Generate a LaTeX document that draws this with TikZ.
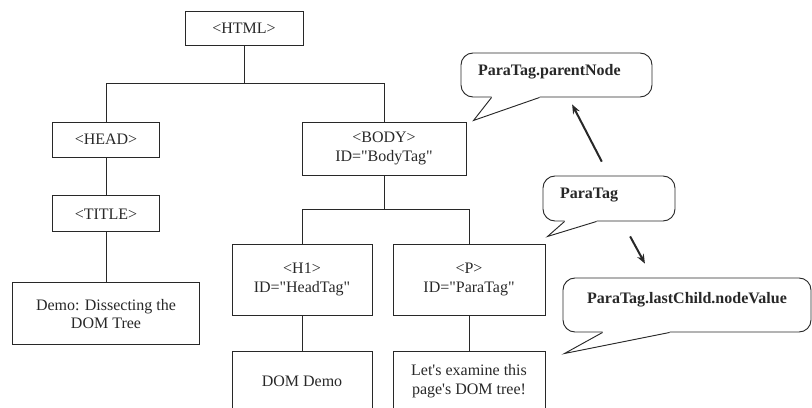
\documentclass[tikz,border=0pt]{standalone}
\usepackage{fontspec}
\setmainfont{Liberation Serif}
\usetikzlibrary{arrows.meta,positioning,calc}
\definecolor{inkgray}{RGB}{40,40,40}
\tikzset{
  tagbox/.style={draw=inkgray,line width=0.7pt,align=center,
                 font=\fontsize{12}{14}\selectfont,text=inkgray,inner sep=2pt},
  bubble/.style={draw=inkgray,line width=0.7pt,fill=white,rounded corners=9pt,
                 font=\fontsize{12}{14}\selectfont\bfseries,text=inkgray},
  link/.style={draw=inkgray,line width=0.7pt},
  ptr/.style={-{Stealth[length=7pt,width=5.5pt]},line width=1.5pt,inkgray},
}

\begin{document}
\begin{tikzpicture}[x=0.75pt,y=-0.75pt]
  \path[use as bounding box,clip] (0,0) rectangle (812,407);

  % the DOM tree
  \node[tagbox,minimum width=88.5pt,minimum height=25.5pt] (html) at (244,28) {<HTML>};
  \node[tagbox,minimum width=80.25pt,minimum height=26.25pt] (head) at (106,139.5) {<HEAD>};
  \node[tagbox,minimum width=80.25pt,minimum height=27pt,below=28.5pt of head] (title) {<TITLE>};
  \node[tagbox,minimum width=140.25pt,minimum height=46.5pt,below=37.5pt of title] (demo)
    {Demo: Dissecting the\\DOM Tree};
  \node[tagbox,minimum width=123pt,minimum height=39.75pt] (body) at (384,148.5)
    {<BODY>\\ID=\textquotedbl BodyTag\textquotedbl};
  \node[tagbox,minimum width=105pt,minimum height=53.25pt] (h1) at (302,279.5)
    {<H1>\\ID=\textquotedbl HeadTag\textquotedbl};
  \node[tagbox,minimum width=114pt,minimum height=53.25pt] (para) at (469,279.5)
    {<P>\\ID=\textquotedbl ParaTag\textquotedbl};
  \node[tagbox,minimum width=105pt,minimum height=43.5pt,below=27pt of h1] (h1txt) {DOM Demo};
  \node[tagbox,minimum width=114pt,minimum height=43.5pt,below=27pt of para] (ptxt)
    {Let\textquotesingle s examine this\\page\textquotesingle s DOM tree!};

  \draw[link] (html.south) -- ++(0,38) -| (head.north);
  \draw[link] (html.south) -- ++(0,38) -| (body.north);
  \draw[link] (head) -- (title);
  \draw[link] (title) -- (demo);
  \draw[link] (body.south) -- ++(0,34) -| (h1.north);
  \draw[link] (body.south) -- ++(0,34) -| (para.north);
  \draw[link] (h1) -- (h1txt);
  \draw[link] (para) -- (ptxt);

  % callouts
  \node[bubble,minimum height=33pt,text width=117.75pt,inner xsep=12.75pt,align=left,
        text depth=8pt] (pnode) at (556.5,75) {ParaTag.parentNode};
  \node[bubble,minimum height=33.75pt,text width=73.5pt,inner xsep=12.75pt,align=left,
        text depth=8pt] (ptag) at (609,198.5) {ParaTag};
  \node[bubble,minimum width=186pt,minimum height=40.5pt,text depth=11pt] (lastv)
    at (687,305) {ParaTag.lastChild.nodeValue};

  \foreach \bub/\ba/\tx/\ty/\bb in {pnode/31/13/23/79, ptag/22/5/15/54, lastv/40/2/21/107}{
    \fill[white] ($(\bub.south west)+(\ba,-1.5)$) -- ($(\bub.south west)+(\ba,0)$)
      -- ($(\bub.south west)+(\tx,\ty)$) -- ($(\bub.south west)+(\bb,0)$)
      -- ($(\bub.south west)+(\bb,-1.5)$) -- cycle;
    \draw[link] ($(\bub.south west)+(\ba,0)$) -- ($(\bub.south west)+(\tx,\ty)$)
      -- ($(\bub.south west)+(\bb,0)$);
  }

  \draw[ptr,shorten <=11.7pt,shorten >=5.9pt] (ptag.north) -- ($(pnode.south)+(12,0)$);
  \draw[ptr,shorten <=12.75pt,shorten >=11.9pt] ($(ptag.south)+(13,0)$)
    -- ($(lastv.north)+(-34.5,0)$);
\end{tikzpicture}
\end{document}
